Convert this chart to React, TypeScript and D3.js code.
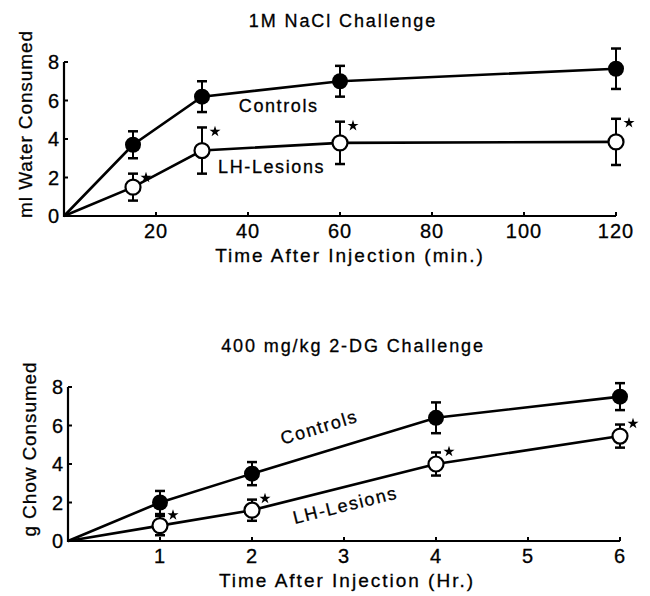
import React from "react";
import * as d3 from "d3";

// 1M NaCl challenge (minutes)
const nacTimes = [0, 15, 30, 60, 120];
const nacControls = [0, 3.7, 6.2, 7.0, 7.65];
const nacControlsErr = [0, 0.7, 0.8, 0.8, 1.05];
const nacLesions = [0, 1.5, 3.4, 3.8, 3.85];
const nacLesionsErr = [0, 0.7, 1.2, 1.1, 1.2];
const nacTicksX = [20, 40, 60, 80, 100, 120];

// 2-DG challenge (hours)
const dgTimes = [0, 1, 2, 4, 6];
const dgControls = [0, 2.0, 3.5, 6.4, 7.5];
const dgControlsErr = [0, 0.6, 0.6, 0.8, 0.7];
const dgLesions = [0, 0.8, 1.6, 4.0, 5.45];
const dgLesionsErr = [0, 0.5, 0.55, 0.6, 0.6];
const dgTicksX = [1, 2, 3, 4, 5, 6];

const ticksY = [0, 2, 4, 6, 8];

const FONT = "'Liberation Sans', Arial, Helvetica, sans-serif";
const star = d3.symbol(d3.symbolStar, 38)();

type PanelProps = {
  top: number;
  left: number;
  xMax: number;
  xTicks: number[];
  times: number[];
  controls: number[];
  controlsErr: number[];
  lesions: number[];
  lesionsErr: number[];
  title: string;
  titleDx: number;
  xLabel: string;
  xLabelDx: number;
  yLabel: string;
  starDy: number;
  children?: (x: d3.ScaleLinear<number, number>, y: d3.ScaleLinear<number, number>) => React.ReactNode;
};

const Panel = (p: PanelProps) => {
  const x = d3.scaleLinear().domain([0, p.xMax]).range([p.left, p.left + 552]);
  const y = d3.scaleLinear().domain([0, 8]).range([p.top + 154, p.top]);
  const line = d3
    .line<number>()
    .x((d, i) => x(p.times[i]))
    .y((d) => y(d));

  const errBars = (vals: number[], errs: number[]) =>
    vals.map((v, i) =>
      errs[i] > 0 ? (
        <g key={i} stroke="#000" strokeWidth={2}>
          <line x1={x(p.times[i])} x2={x(p.times[i])} y1={y(v + errs[i])} y2={y(v - errs[i])} />
          <line x1={x(p.times[i]) - 5} x2={x(p.times[i]) + 5} y1={y(v + errs[i])} y2={y(v + errs[i])} strokeWidth={2.5} />
          <line x1={x(p.times[i]) - 5} x2={x(p.times[i]) + 5} y1={y(v - errs[i])} y2={y(v - errs[i])} strokeWidth={2.5} />
        </g>
      ) : null
    );

  const y0 = y(0);
  const midX = (x(0) + x(p.xMax)) / 2;

  return (
    <g fontFamily={FONT} fill="#000">
      <g stroke="#000" strokeWidth={0.3}>
        <text x={midX + p.titleDx} y={p.top - 35} textAnchor="middle" fontSize={18} letterSpacing={1.9}>
          {p.title}
        </text>
        {ticksY.map((t) => (
          <text key={t} x={x(0) - 5} y={y(t) + 7} textAnchor="end" fontSize={20}>
            {t}
          </text>
        ))}
        {p.xTicks.map((t) => (
          <text key={t} x={x(t)} y={y0 + 22} textAnchor="middle" fontSize={20} letterSpacing={1}>
            {t}
          </text>
        ))}
        <text x={midX + p.xLabelDx} y={y0 + 46} textAnchor="middle" fontSize={19} letterSpacing={2}>
          {p.xLabel}
        </text>
        <text
          transform={`translate(${x(0) - 32},${(y(0) + y(8)) / 2 - 15}) rotate(-90)`}
          textAnchor="middle"
          fontSize={19}
          letterSpacing={0.9}
        >
          {p.yLabel}
        </text>
        {p.children && p.children(x, y)}
      </g>
      {/* axes */}
      <path d={`M${x(0)},${y(8)}V${y0}H${x(p.xMax)}`} fill="none" stroke="#000" strokeWidth={2.2} />
      {ticksY.map((t) => (
        <line key={t} x1={x(0)} x2={x(0) + 4} y1={y(t)} y2={y(t)} stroke="#000" strokeWidth={2} />
      ))}
      {p.xTicks.map((t) => (
        <line key={t} x1={x(t)} x2={x(t)} y1={y0} y2={y0 - 4} stroke="#000" strokeWidth={2} />
      ))}
      {/* series */}
      <path d={line(p.controls) || ""} fill="none" stroke="#000" strokeWidth={2.6} />
      <path d={line(p.lesions) || ""} fill="none" stroke="#000" strokeWidth={2.6} />
      {errBars(p.controls, p.controlsErr)}
      {errBars(p.lesions, p.lesionsErr)}
      {p.controls.map((v, i) =>
        i > 0 ? <circle key={i} cx={x(p.times[i])} cy={y(v)} r={8} fill="#000" /> : null
      )}
      {p.lesions.map((v, i) =>
        i > 0 ? (
          <circle key={i} cx={x(p.times[i])} cy={y(v)} r={7.5} fill="#fff" stroke="#000" strokeWidth={2.2} />
        ) : null
      )}
      {p.lesions.map((v, i) =>
        i > 0 ? (
          <path
            key={i}
            d={star || ""}
            transform={`translate(${x(p.times[i]) + 13},${y(v + p.lesionsErr[i]) + p.starDy})`}
            fill="#000"
          />
        ) : null
      )}
    </g>
  );
};

export default function App() {
  return (
    <svg
      width={650}
      height={596}
      style={{ position: "absolute", left: 0, top: 0, background: "#fff" }}
    >
      <Panel
        top={62}
        left={64}
        xMax={120}
        xTicks={nacTicksX}
        times={nacTimes}
        controls={nacControls}
        controlsErr={nacControlsErr}
        lesions={nacLesions}
        lesionsErr={nacLesionsErr}
        title="1M NaCl Challenge"
        titleDx={3}
        xLabel="Time After Injection (min.)"
        xLabelDx={10}
        yLabel="ml Water Consumed"
        starDy={4}
      >
        {(x, y) => (
          <g fontSize={18} letterSpacing={1.6}>
            <text x={x(38)} y={y(5.4)}>Controls</text>
            <text x={x(33.5)} y={y(2.25)}>LH-Lesions</text>
          </g>
        )}
      </Panel>
      <Panel
        top={387}
        left={68}
        xMax={6}
        xTicks={dgTicksX}
        times={dgTimes}
        controls={dgControls}
        controlsErr={dgControlsErr}
        lesions={dgLesions}
        lesionsErr={dgLesionsErr}
        title="400 mg/kg 2-DG Challenge"
        titleDx={9}
        xLabel="Time After Injection (Hr.)"
        xLabelDx={3}
        yLabel="g Chow Consumed"
        starDy={-1}
      >
        {(x, y) => (
          <g fontSize={18} letterSpacing={1.6}>
            <text x={x(2.75)} y={y(5.6)} textAnchor="middle" transform={`rotate(-17,${x(2.75)},${y(5.6)})`}>
              Controls
            </text>
            <text x={x(3.03)} y={y(1.55)} textAnchor="middle" transform={`rotate(-14,${x(3.03)},${y(1.55)})`}>
              LH-Lesions
            </text>
          </g>
        )}
      </Panel>
    </svg>
  );
}
